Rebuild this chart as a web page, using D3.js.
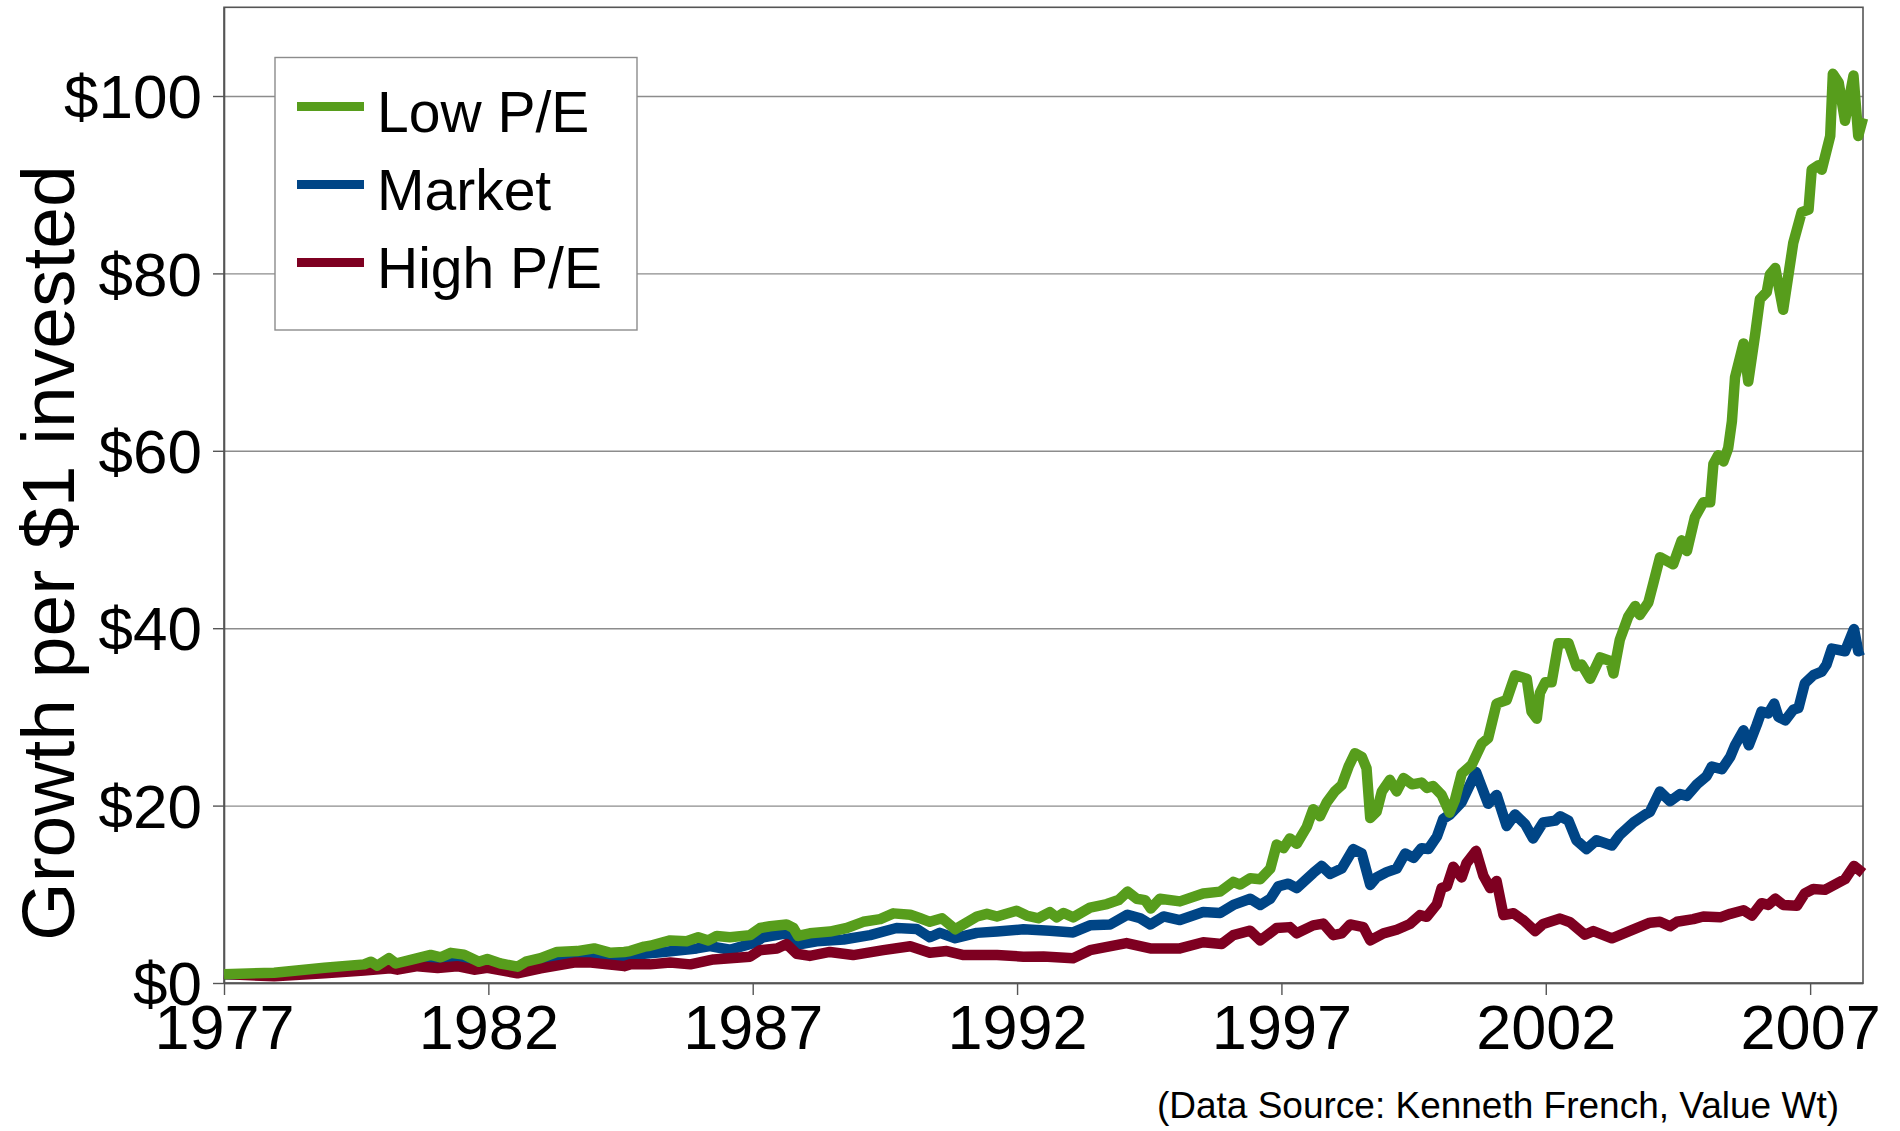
<!DOCTYPE html>
<html>
<head>
<meta charset="utf-8">
<script src="https://cdn.jsdelivr.net/npm/d3@7"></script>
<style>
  body { margin: 0; background: #fff; }
  svg { font-family: "Liberation Sans", Arial, sans-serif; }
</style>
</head>
<body>
<div class="chart"></div>
<script>
// [year, growth of $1]
var lowPE = [
  [1977.00, 1.0], [1977.95, 1.16], [1978.90, 1.73], [1979.65, 2.1], [1979.78, 2.4], [1979.90, 1.95],
  [1980.12, 2.8], [1980.25, 2.2], [1980.53, 2.6], [1980.91, 3.16], [1981.10, 2.9], [1981.29, 3.4],
  [1981.54, 3.2], [1981.82, 2.4], [1981.98, 2.7], [1982.23, 2.2], [1982.55, 1.84], [1982.71, 2.4],
  [1982.99, 2.8], [1983.30, 3.5], [1983.68, 3.6], [1984.00, 3.9], [1984.31, 3.4], [1984.57, 3.5],
  [1984.68, 3.6], [1984.95, 4.1], [1985.06, 4.2], [1985.44, 4.8], [1985.75, 4.7], [1985.97, 5.15],
  [1986.16, 4.8], [1986.32, 5.3], [1986.57, 5.15], [1986.95, 5.4], [1987.14, 6.2], [1987.33, 6.4],
  [1987.64, 6.6], [1987.77, 6.2], [1987.86, 5.3], [1988.08, 5.6], [1988.46, 5.8], [1988.78, 6.2],
  [1989.09, 6.9], [1989.41, 7.2], [1989.66, 7.85], [1989.98, 7.7], [1990.17, 7.3], [1990.35, 6.9],
  [1990.58, 7.3], [1990.83, 6.05], [1991.24, 7.5], [1991.43, 7.8], [1991.62, 7.5], [1991.99, 8.15],
  [1992.18, 7.6], [1992.40, 7.3], [1992.62, 8.0], [1992.75, 7.4], [1992.88, 7.9], [1993.06, 7.4],
  [1993.38, 8.5], [1993.70, 8.9], [1993.92, 9.35], [1994.09, 10.3], [1994.26, 9.5], [1994.42, 9.35],
  [1994.53, 8.4], [1994.70, 9.5], [1995.08, 9.2], [1995.52, 10.1], [1995.84, 10.3], [1996.09, 11.4],
  [1996.22, 11.1], [1996.41, 11.8], [1996.60, 11.7], [1996.79, 12.9], [1996.91, 15.6], [1997.04, 15.2],
  [1997.16, 16.3], [1997.29, 15.7], [1997.48, 17.6], [1997.60, 19.6], [1997.73, 18.8], [1997.86, 20.4],
  [1998.01, 21.6], [1998.14, 22.3], [1998.27, 24.4], [1998.39, 25.9], [1998.52, 25.5], [1998.61, 24.2],
  [1998.68, 18.6], [1998.80, 19.3], [1998.90, 21.6], [1999.05, 22.9], [1999.18, 21.6], [1999.31, 23.1],
  [1999.47, 22.4], [1999.65, 22.6], [1999.75, 22.0], [1999.87, 22.2], [2000.03, 21.2], [2000.18, 19.2],
  [2000.28, 20.6], [2000.41, 23.6], [2000.60, 24.6], [2000.79, 27.0], [2000.91, 27.6], [2001.07, 31.5],
  [2001.26, 31.9], [2001.42, 34.7], [2001.64, 34.3], [2001.73, 30.6], [2001.83, 29.8], [2001.89, 32.7],
  [2001.99, 33.9], [2002.11, 33.9], [2002.24, 38.3], [2002.43, 38.3], [2002.58, 35.7], [2002.68, 35.9],
  [2002.84, 34.3], [2003.03, 36.7], [2003.22, 36.3], [2003.28, 34.9], [2003.40, 38.7], [2003.56, 41.3],
  [2003.69, 42.5], [2003.78, 41.5], [2003.94, 42.9], [2004.04, 45.2], [2004.16, 48.0], [2004.41, 47.2],
  [2004.57, 49.9], [2004.67, 48.7], [2004.82, 52.5], [2004.98, 54.2], [2005.11, 54.2], [2005.17, 58.5],
  [2005.26, 59.5], [2005.36, 58.8], [2005.45, 60.3], [2005.52, 63.3], [2005.58, 68.3], [2005.74, 72.1],
  [2005.83, 67.8], [2005.96, 73.1], [2006.05, 77.1], [2006.18, 77.9], [2006.24, 79.9], [2006.34, 80.6],
  [2006.49, 75.9], [2006.68, 83.4], [2006.84, 86.9], [2006.97, 87.2], [2007.03, 91.7], [2007.16, 92.2],
  [2007.22, 91.7], [2007.38, 95.5], [2007.43, 102.5], [2007.54, 101.5], [2007.66, 97.2], [2007.82, 102.3],
  [2007.91, 95.5], [2008.00, 97.5]
];

var market = [
  [1977.00, 1.0], [1977.95, 0.95], [1978.90, 1.4], [1979.65, 1.65], [1980.15, 2.0], [1980.78, 2.2],
  [1981.29, 2.5], [1981.67, 2.1], [1981.98, 2.0], [1982.55, 1.4], [1982.99, 2.1], [1983.37, 2.6],
  [1983.94, 2.9], [1984.44, 2.6], [1984.68, 2.97], [1984.95, 3.3], [1985.31, 3.5], [1985.94, 3.9],
  [1986.19, 4.15], [1986.57, 3.75], [1987.01, 4.5], [1987.20, 5.15], [1987.64, 5.6], [1987.83, 4.3],
  [1988.21, 4.7], [1988.72, 4.9], [1989.22, 5.4], [1989.72, 6.2], [1990.10, 6.1], [1990.35, 5.15],
  [1990.54, 5.65], [1990.83, 5.05], [1991.24, 5.65], [1991.62, 5.8], [1992.12, 6.05], [1992.62, 5.9],
  [1993.06, 5.7], [1993.38, 6.5], [1993.76, 6.6], [1994.09, 7.7], [1994.33, 7.3], [1994.52, 6.6],
  [1994.77, 7.5], [1995.08, 7.1], [1995.52, 8.0], [1995.84, 7.9], [1996.09, 8.8], [1996.41, 9.5],
  [1996.60, 8.8], [1996.79, 9.5], [1996.94, 10.9], [1997.13, 11.2], [1997.29, 10.7], [1997.60, 12.4],
  [1997.76, 13.2], [1997.92, 12.3], [1998.14, 12.9], [1998.36, 15.1], [1998.52, 14.6], [1998.68, 11.05],
  [1998.80, 11.9], [1998.99, 12.5], [1999.18, 12.9], [1999.34, 14.6], [1999.50, 14.1], [1999.65, 15.2],
  [1999.78, 15.1], [1999.94, 16.5], [2000.06, 18.5], [2000.19, 19.0], [2000.41, 20.4], [2000.57, 22.4],
  [2000.68, 23.8], [2000.91, 20.2], [2001.07, 21.2], [2001.26, 17.7], [2001.42, 19.0], [2001.61, 17.9],
  [2001.76, 16.3], [2001.95, 18.1], [2002.18, 18.3], [2002.27, 18.8], [2002.43, 18.3], [2002.58, 16.1],
  [2002.77, 15.1], [2002.96, 16.1], [2003.25, 15.5], [2003.40, 16.7], [2003.66, 18.1], [2003.88, 19.0],
  [2003.97, 19.3], [2004.16, 21.6], [2004.35, 20.5], [2004.54, 21.3], [2004.67, 21.1], [2004.86, 22.4],
  [2005.04, 23.3], [2005.14, 24.4], [2005.33, 24.1], [2005.49, 25.5], [2005.58, 26.8], [2005.74, 28.5],
  [2005.84, 26.8], [2005.99, 29.1], [2006.08, 30.6], [2006.21, 30.4], [2006.32, 31.5], [2006.40, 30.0],
  [2006.53, 29.6], [2006.68, 30.8], [2006.78, 31.0], [2006.90, 33.8], [2007.06, 34.7], [2007.22, 35.1],
  [2007.31, 35.9], [2007.41, 37.7], [2007.66, 37.4], [2007.83, 39.9], [2007.91, 37.4], [2008.00, 37.6]
];

var highPE = [
  [1977.00, 1.0], [1977.95, 0.75], [1978.90, 1.1], [1979.65, 1.4], [1980.15, 1.65], [1980.28, 1.5],
  [1980.66, 1.9], [1981.04, 1.7], [1981.41, 1.9], [1981.73, 1.5], [1981.98, 1.7], [1982.55, 1.1],
  [1982.99, 1.65], [1983.62, 2.3], [1983.94, 2.3], [1984.57, 1.9], [1984.68, 2.1], [1985.06, 2.1],
  [1985.44, 2.3], [1985.82, 2.1], [1986.26, 2.66], [1986.95, 2.97], [1987.14, 3.7], [1987.46, 3.9],
  [1987.64, 4.4], [1987.83, 3.3], [1988.08, 3.05], [1988.46, 3.5], [1988.90, 3.15], [1989.47, 3.7],
  [1989.98, 4.15], [1990.35, 3.4], [1990.67, 3.6], [1990.99, 3.15], [1991.62, 3.15], [1992.12, 2.97],
  [1992.50, 3.0], [1993.06, 2.8], [1993.38, 3.7], [1994.07, 4.5], [1994.52, 3.9], [1995.08, 3.9],
  [1995.52, 4.6], [1995.87, 4.4], [1996.09, 5.4], [1996.41, 5.9], [1996.60, 4.8], [1996.91, 6.2],
  [1997.16, 6.3], [1997.29, 5.6], [1997.60, 6.5], [1997.79, 6.7], [1997.98, 5.4], [1998.14, 5.6],
  [1998.30, 6.6], [1998.55, 6.3], [1998.68, 4.8], [1998.93, 5.6], [1999.18, 6.0], [1999.43, 6.65],
  [1999.62, 7.66], [1999.75, 7.46], [1999.94, 8.87], [2000.03, 10.7], [2000.13, 10.9], [2000.25, 13.1],
  [2000.41, 11.9], [2000.50, 13.5], [2000.68, 14.9], [2000.82, 12.1], [2000.95, 10.7], [2001.07, 11.5],
  [2001.20, 7.66], [2001.39, 7.86], [2001.58, 7.06], [2001.80, 5.85], [2001.95, 6.65], [2002.27, 7.26],
  [2002.46, 6.85], [2002.74, 5.44], [2002.90, 5.85], [2003.25, 5.04], [2003.66, 6.05], [2003.97, 6.8],
  [2004.16, 6.9], [2004.35, 6.4], [2004.48, 6.9], [2004.79, 7.2], [2004.98, 7.5], [2005.30, 7.4],
  [2005.49, 7.8], [2005.74, 8.2], [2005.90, 7.6], [2006.08, 9.0], [2006.21, 8.8], [2006.34, 9.5],
  [2006.49, 8.8], [2006.75, 8.7], [2006.90, 10.1], [2007.06, 10.6], [2007.28, 10.5], [2007.50, 11.2],
  [2007.66, 11.7], [2007.83, 13.2], [2008.00, 12.4]
];

var seriesNames = ["Low P/E", "Market", "High P/E"];
var seriesColors = ["#579d1c", "#004586", "#7e0021"];
var yTicks = [0, 20, 40, 60, 80, 100];
var xTicks = [1977, 1982, 1987, 1992, 1997, 2002, 2007];

var svgWidth = 1900;
var svgHeight = 1131;
var plot = { left: 224, right: 1863, top: 7.3, bottom: 983 };

var svg = d3.select(".chart")
  .append("svg")
  .attr("width", svgWidth)
  .attr("height", svgHeight);

svg.append("rect")
  .attr("width", svgWidth)
  .attr("height", svgHeight)
  .attr("fill", "#fff");

var xScale = d3.scaleLinear()
  .domain([1977, 2008])
  .range([plot.left, plot.right]);

var yScale = d3.scaleLinear()
  .domain([0, 110])
  .range([plot.bottom, plot.top]);

// gridlines
svg.append("g")
  .attr("transform", `translate(${plot.left}, 0)`)
  .call(d3.axisLeft(yScale).tickValues(yTicks).tickSize(-(plot.right - plot.left)).tickFormat(""))
  .call(g => g.select(".domain").remove())
  .selectAll("line")
  .attr("stroke", "#8c8c8c")
  .attr("stroke-width", 1.4);

// plot frame
svg.append("rect")
  .attr("x", plot.left)
  .attr("y", plot.top)
  .attr("width", plot.right - plot.left)
  .attr("height", plot.bottom - plot.top)
  .attr("fill", "none")
  .attr("stroke", "#555")
  .attr("stroke-width", 1.6);

// y axis
var leftAxis = svg.append("g")
  .attr("transform", `translate(${plot.left}, 0)`)
  .call(d3.axisLeft(yScale).tickValues(yTicks).tickSizeInner(11).tickSizeOuter(0).tickPadding(11)
    .tickFormat(d => "$" + d));
leftAxis.select(".domain").attr("stroke", "#555").attr("stroke-width", 1.6);
leftAxis.selectAll("line").attr("stroke", "#555").attr("stroke-width", 1.4);
leftAxis.selectAll("text")
  .attr("font-size", "62px")
  .attr("font-family", "Liberation Sans, Arial, sans-serif")
  .attr("fill", "#000")
  .attr("dy", "0.35em");

// x axis
var bottomAxis = svg.append("g")
  .attr("transform", `translate(0, ${plot.bottom})`)
  .call(d3.axisBottom(xScale).tickValues(xTicks).tickSizeInner(12).tickSizeOuter(0).tickPadding(9)
    .tickFormat(d3.format("d")));
bottomAxis.select(".domain").attr("stroke", "#555").attr("stroke-width", 1.6);
bottomAxis.selectAll("line").attr("stroke", "#555").attr("stroke-width", 1.4);
bottomAxis.selectAll("text")
  .attr("font-size", "63px")
  .attr("font-family", "Liberation Sans, Arial, sans-serif")
  .attr("fill", "#000");

// lines
var line = d3.line()
  .x(d => xScale(d[0]))
  .y(d => yScale(d[1]));

var drawOrder = [[market, 1], [highPE, 2], [lowPE, 0]];
drawOrder.forEach(function(s) {
  svg.append("path")
    .datum(s[0])
    .attr("d", line)
    .attr("fill", "none")
    .attr("stroke", seriesColors[s[1]])
    .attr("stroke-width", 10.5)
    .attr("stroke-linejoin", "round")
    .attr("stroke-linecap", "butt");
});

// legend
var legend = svg.append("g");
legend.append("rect")
  .attr("x", 275)
  .attr("y", 57.5)
  .attr("width", 362)
  .attr("height", 272.5)
  .attr("fill", "#fff")
  .attr("stroke", "#8c8c8c")
  .attr("stroke-width", 1.4);

seriesNames.forEach(function(name, i) {
  var ly = 106.5 + i * 78;
  legend.append("line")
    .attr("x1", 297)
    .attr("x2", 364)
    .attr("y1", ly)
    .attr("y2", ly)
    .attr("stroke", seriesColors[i])
    .attr("stroke-width", 9);
  legend.append("text")
    .attr("x", 377)
    .attr("y", ly + 25)
    .attr("font-size", "57px")
    .attr("fill", "#000")
    .text(name);
});

// y axis title
svg.append("text")
  .attr("transform", "translate(74, 553) rotate(-90)")
  .attr("text-anchor", "middle")
  .attr("font-size", "75px")
  .attr("fill", "#000")
  .text("Growth per $1 invested");

// source note
svg.append("text")
  .attr("x", 1839)
  .attr("y", 1118)
  .attr("text-anchor", "end")
  .attr("font-size", "37px")
  .attr("fill", "#000")
  .text("(Data Source: Kenneth French, Value Wt)");
</script>
</body>
</html>
